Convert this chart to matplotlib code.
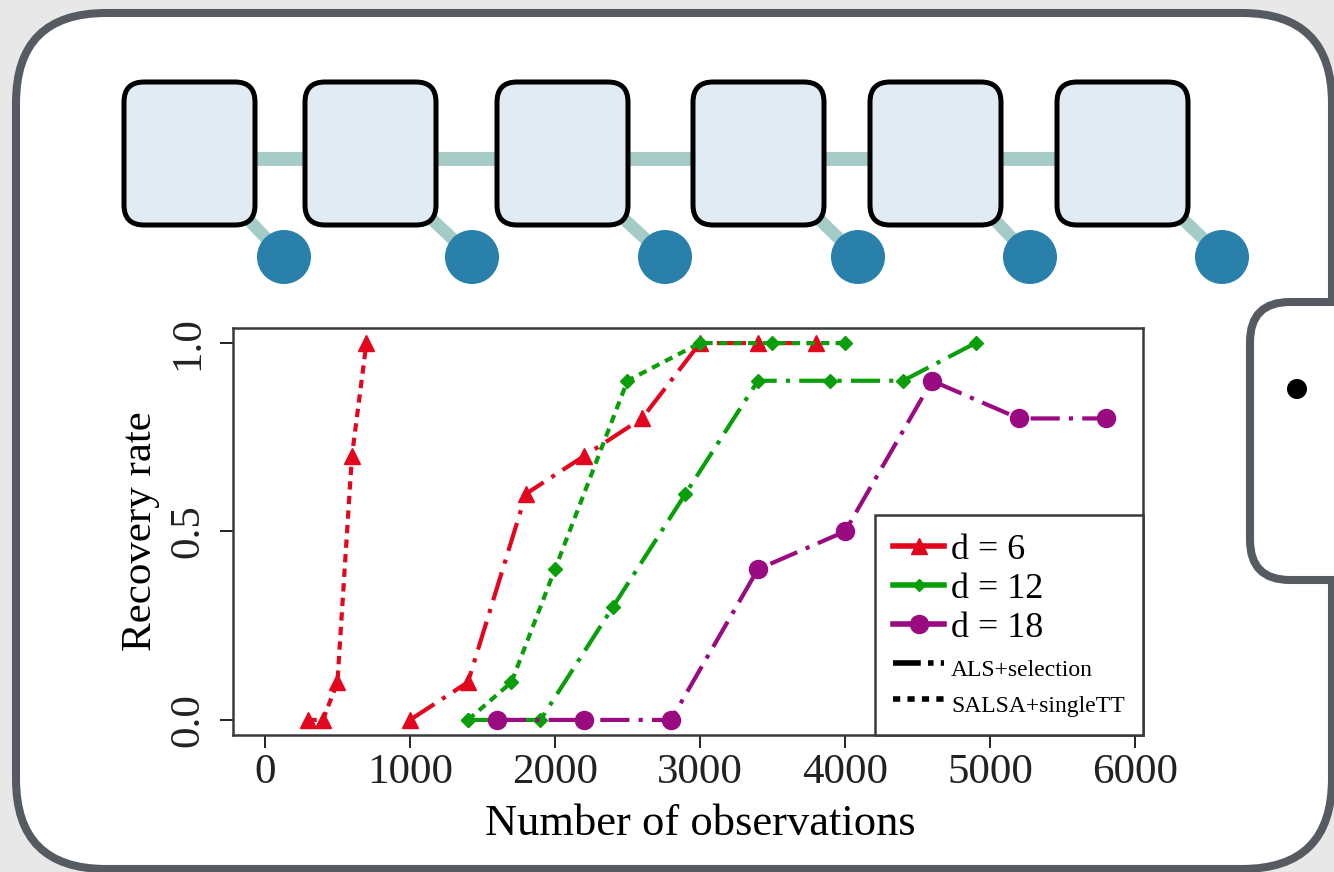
import matplotlib
matplotlib.use('Agg')
import matplotlib.pyplot as plt
from matplotlib.patches import FancyBboxPatch, Circle
from matplotlib.lines import Line2D

plt.rcParams['font.family'] = ['Liberation Serif', 'DejaVu Serif']

# recovery rate vs number of observations
obs_d6_als = [1000, 1400, 1800, 2200, 2600, 3000, 3400, 3800]
rate_d6_als = [0.0, 0.1, 0.6, 0.7, 0.8, 1.0, 1.0, 1.0]
obs_d6_salsa = [300, 400, 500, 600, 700]
rate_d6_salsa = [0.0, 0.0, 0.1, 0.7, 1.0]

obs_d12_als = [1400, 1900, 2400, 2900, 3400, 3900, 4400, 4900]
rate_d12_als = [0.0, 0.0, 0.3, 0.6, 0.9, 0.9, 0.9, 1.0]
obs_d12_salsa = [1400, 1700, 2000, 2500, 3000, 3500, 4000]
rate_d12_salsa = [0.0, 0.1, 0.4, 0.9, 1.0, 1.0, 1.0]

obs_d18_als = [1600, 2200, 2800, 3400, 4000, 4600, 5200, 5800]
rate_d18_als = [0.0, 0.0, 0.0, 0.4, 0.5, 0.9, 0.8, 0.8]

xticks = [0, 1000, 2000, 3000, 4000, 5000, 6000]
yticks = [0.0, 0.5, 1.0]
ytick_labels = ['0.0', '0.5', '1.0']
series_labels = ['d = 6', 'd = 12', 'd = 18']
method_labels = ['ALS+selection', 'SALSA+singleTT']

RED = '#e2061e'
GREEN = '#0a9e0a'
PURPLE = '#9a0a80'
ALS_LS = (0, (7, 2.2, 1, 2.2))
SALSA_LS = (0, (2, 1.5))

W, H = 1334, 872
fig = plt.figure(figsize=(W / 100, H / 100), dpi=100, facecolor='#e8e8e8')

# slide background drawn in pixel coords
bg = fig.add_axes([0, 0, 1, 1])
bg.set_xlim(0, W)
bg.set_ylim(H, 0)
bg.axis('off')
bg.set_facecolor('none')

bg.add_patch(FancyBboxPatch((16, 13), 1316, 856, boxstyle='round,pad=0,rounding_size=90',
                            fc='white', ec='#565b61', lw=5.8))
bg.add_patch(FancyBboxPatch((1250, 302), 200, 278, boxstyle='round,pad=0,rounding_size=40',
                            fc='white', ec='#565b61', lw=5.8))
bg.add_patch(Circle((1297, 389), 10, fc='black', ec='none'))

# tensor train diagram
box_left = [124, 305, 497, 693, 870, 1057]
box_w, box_top, box_h = 131, 82, 143
circ_x = [284, 472, 665, 858, 1030, 1222]
circ_y = 257
edge_col = '#a5cbc7'
bg.plot([box_left[0] + box_w / 2, box_left[-1] + box_w / 2], [159, 159],
        color=edge_col, lw=10, solid_capstyle='butt', zorder=1)
for bx, cx in zip(box_left, circ_x):
    bg.plot([bx + box_w - 30, cx], [box_top + box_h - 30, circ_y], color=edge_col,
            lw=9, solid_capstyle='butt', zorder=1)
    bg.add_patch(FancyBboxPatch((bx, box_top), box_w, box_h,
                                boxstyle='round,pad=0,rounding_size=20',
                                fc='#e1ebf4', ec='black', lw=3.6, zorder=2))
    bg.add_patch(Circle((cx, circ_y), 27, fc='#2980ab', ec='none', zorder=3))

# recovery plot
ax = fig.add_axes([233 / W, (H - 735) / H, 910 / W, 407 / H])
ax.set_facecolor('white')
lw = 3
ax.plot(obs_d6_salsa, rate_d6_salsa, color=RED, ls=SALSA_LS, lw=lw, marker='^', ms=11)
ax.plot(obs_d6_als, rate_d6_als, color=RED, ls=ALS_LS, lw=lw, marker='^', ms=11)
ax.plot(obs_d12_salsa, rate_d12_salsa, color=GREEN, ls=SALSA_LS, lw=lw, marker='D', ms=7)
ax.plot(obs_d12_als, rate_d12_als, color=GREEN, ls=ALS_LS, lw=lw, marker='D', ms=7)
ax.plot(obs_d18_als, rate_d18_als, color=PURPLE, ls=ALS_LS, lw=lw, marker='o', ms=13)

ax.set_xlim(-220, 6055)
ax.set_ylim(-0.04, 1.04)
ax.set_xticks(xticks)
ax.set_yticks(yticks, ytick_labels, rotation=90, va='center')
ax.tick_params(direction='out', length=9.5, width=1.4, labelsize=31, colors='#222222')
ax.tick_params(axis='y', pad=9)
for sp in ax.spines.values():
    sp.set_color('#3a3a3a')
    sp.set_linewidth(1.8)

ax.set_xlabel('Number of observations', fontsize=32)
ax.xaxis.set_label_coords(0.513, -0.17)
ax.set_ylabel('Recovery rate', fontsize=31)
ax.yaxis.set_label_coords(-0.08, 0.5)

handles = [
    Line2D([], [], color=RED, lw=4, marker='^', ms=11),
    Line2D([], [], color=GREEN, lw=4, marker='D', ms=6),
    Line2D([], [], color=PURPLE, lw=4, marker='o', ms=13),
    Line2D([], [], color='black', lw=4, ls=(0, (5, 1.3, 1, 1.3))),
    Line2D([], [], color='black', lw=4, ls=(0, (1.3, 1.3))),
]
leg = ax.legend(handles, series_labels + method_labels, loc='lower right',
                borderaxespad=0, fancybox=False, framealpha=1, edgecolor='#3a3a3a',
                fontsize=26, handlelength=1.4, handletextpad=0.2,
                labelspacing=0.16, borderpad=0.5)
leg.get_frame().set_linewidth(1.8)
for t in leg.get_texts()[3:]:
    t.set_fontsize(17)

fig.savefig('out.png', dpi=100, facecolor=fig.get_facecolor())
